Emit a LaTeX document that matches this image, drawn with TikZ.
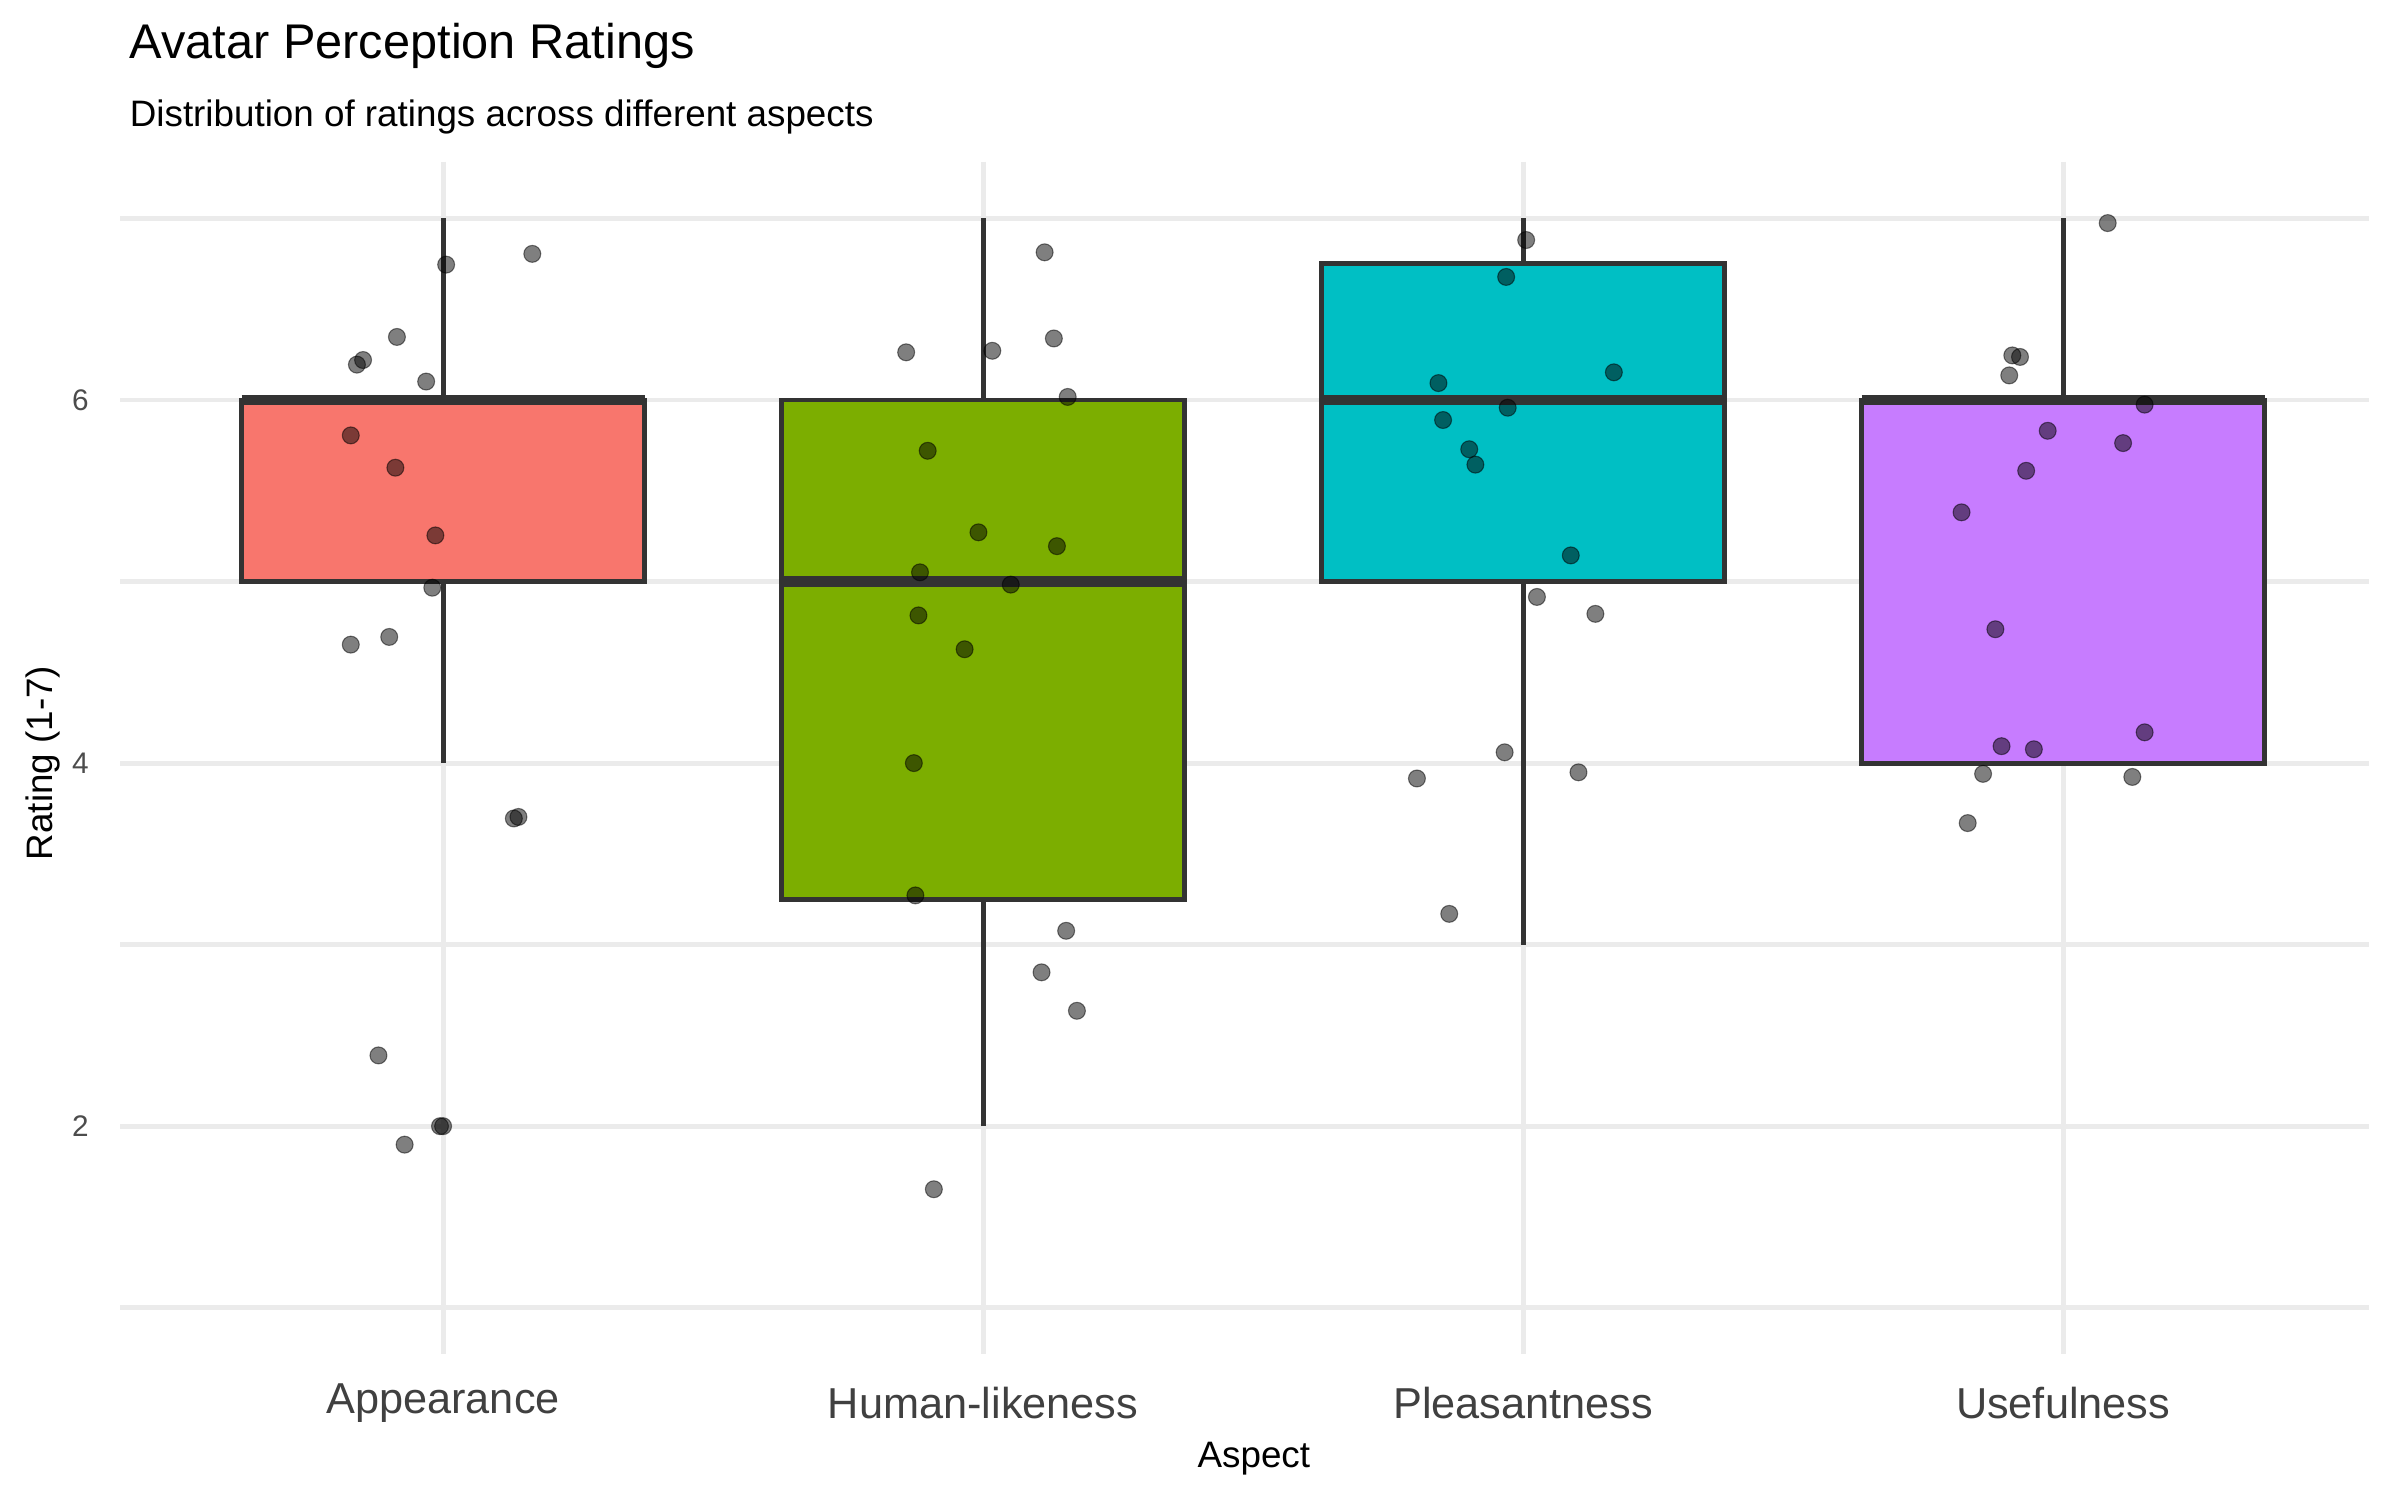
\documentclass[tikz,border=0pt]{standalone}
\usepackage{fontspec}
\setmainfont{Liberation Sans}
\usetikzlibrary{positioning}
\definecolor{cApp}{HTML}{F8766D}
\definecolor{cHum}{HTML}{7CAE00}
\definecolor{cPle}{HTML}{00BFC4}
\definecolor{cUse}{HTML}{C77CFF}
\definecolor{gridc}{HTML}{EBEBEB}
\definecolor{boxc}{HTML}{333333}
\tikzset{
  grid/.style={gridc, line width=0.9pt},
  box/.style={boxc, line width=0.9pt},
  med/.style={boxc, line width=2pt},
  pt/.style={fill=black, fill opacity=0.5, draw=black, draw opacity=0.5, line width=0.2pt},
}
\begin{document}
\begin{tikzpicture}[x=0.01cm, y=-0.01cm]
  \useasboundingbox (0,0) rectangle (1560,975);
  % grid
  \foreach \r in {1,...,7}
    \draw[grid] (78,{260+(6-\r)*118}) -- (1540,{260+(6-\r)*118});
  \foreach \x in {288,639,990,1341}
    \draw[grid] (\x,105) -- (\x,880);
  % y labels
  \foreach \r in {2,4,6}
    \node[left, font=\fontsize{5.5}{6}\selectfont, text=black!70] at (70,{260+(6-\r)*118}) {\r};
  % boxes: x, q1, med, q3, lo, hi, colour
  \foreach \x/\qa/\md/\qb/\lo/\hi/\c in {288/5/6/6/4/7/cApp, 639/3.25/5/6/2/7/cHum, 990/5/6/6.75/3/7/cPle, 1341/4/6/6/4/7/cUse}{
    \draw[box] (\x,{260+(6-\lo)*118}) -- (\x,{260+(6-\hi)*118});
    \filldraw[box, fill=\c] (\x-131,{260+(6-\qa)*118}) rectangle (\x+131,{260+(6-\qb)*118});
    \draw[med] (\x-131,{260+(6-\md)*118}) -- (\x+131,{260+(6-\md)*118});
  }
  % jittered points
  \foreach \px/\py in {346/165,290/172,258/219,236/234,232/237,277/248,228/283,257/304,283/348,281/382,228/419,253/414,337/531,334/532,246/686,288/732,286/732,263/744,
    679/164,589/229,645/228,685/220,694/258,603/293,636/346,687/355,598/372,657/380,597/400,627/422,594/496,595/582,693/605,677/632,700/657,607/773,
    992/156,979/180,1049/242,935/249,980/265,938/273,955/292,959/302,1021/361,999/388,1037/399,978/489,1026/502,921/506,942/594,
    1370/145,1308/231,1313/232,1306/244,1394/263,1331/280,1380/288,1317/306,1275/333,1297/409,1301/485,1322/487,1394/476,1289/503,1386/505,1279/535}
    \fill[pt] (\px,\py) circle (5.5);
  % x labels
  \foreach \x/\t in {288/Appearance,639/Human-likeness,990/Pleasantness,1341/Usefulness}
    \node[font=\fontsize{8}{9}\selectfont, text=black!75] (lab\x) at (\x,912) {\t};
  \node[font=\fontsize{6.8}{8}\selectfont] (xtitle) at (815,948) {Aspect};
  \node[font=\fontsize{6.8}{8}\selectfont, rotate=90] (ytitle) at (28,496) {Rating (1-7)};
  \node[anchor=west, font=\fontsize{9}{10}\selectfont] (title) at (72,30) {Avatar Perception Ratings};
  \node[anchor=west, font=\fontsize{6.8}{8}\selectfont] (subtitle) at (72,76) {Distribution of ratings across different aspects};
\end{tikzpicture}
\end{document}
